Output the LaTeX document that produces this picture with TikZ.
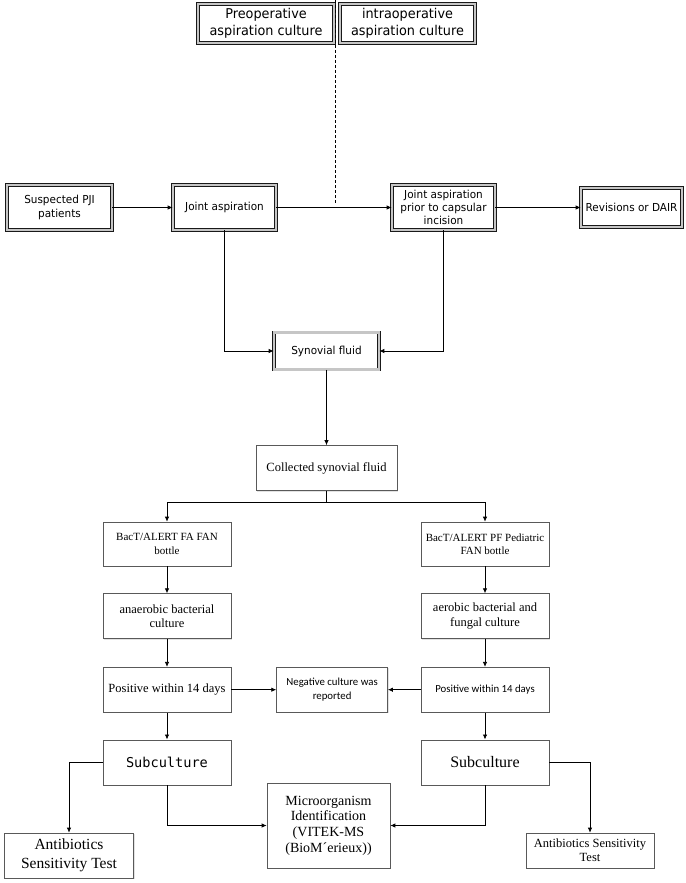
\documentclass[tikz,border=0pt]{standalone}
\usepackage{fontspec}
\setmainfont{Liberation Serif}
\newfontfamily\tahomafont[FakeStretch=0.95]{DejaVu Sans}
\newfontfamily\calibrifont{Carlito}
\newfontfamily\simfont{DejaVu Sans Mono}
\usepackage{tikz}
\usetikzlibrary{shapes, arrows.meta, positioning, shadows}

\newcommand{\fsz}[2]{\fontsize{#1}{#2}\selectfont}

\begin{document}
\begin{tikzpicture}[x=1pt, y=-1pt,
  topbox/.style={rectangle, draw=black!90, line width=0.6pt,
                 double=gray!45, double distance=2.2pt, fill=white,
                 align=center, inner sep=1pt,
                 drop shadow={shadow xshift=1.5pt, shadow yshift=-1.5pt, fill=gray!60},
                 font=\tahomafont\fsz{11}{13.3}},
  box/.style={rectangle, draw=gray!70!black, line width=0.6pt, fill=white,
              align=center, inner sep=1pt,
              minimum width=128pt, minimum height=45pt,
              drop shadow={shadow xshift=1.2pt, shadow yshift=-1.2pt, fill=gray!45},
              font=\fsz{12.5}{14.3}},
  arrow/.style={-{Latex[length=5pt, width=4.5pt]}, line width=0.8pt},
  link/.style={line width=0.8pt}
]
  \useasboundingbox (0,0) rectangle (685,883);

  \node[topbox, minimum width=136pt, minimum height=39pt, font=\tahomafont\fsz{13.5}{17}]
    (pre) at (266,23.5) {Preoperative\\aspiration culture};
  \node[topbox, minimum width=135pt, minimum height=39pt, font=\tahomafont\fsz{13.5}{17}]
    (intra) at (407.5,23.5) {intraoperative\\aspiration culture};
  \coordinate (dashtop) at (335,0);
  \coordinate (dashend) at (335,203);
  \draw[line width=0.7pt, dash pattern=on 3pt off 2pt] (dashtop) -- (dashend);

  \node[topbox, minimum width=105pt, minimum height=45pt] (susp) at (59.5,207.5) {Suspected PJI\\patients};
  \node[topbox, minimum width=103pt, minimum height=45pt] (jasp) at (224.5,207.5) {Joint aspiration};
  \node[topbox, minimum width=103pt, minimum height=45pt] (prior) at (443.5,207.5)
    {Joint aspiration\\prior to capsular\\incision};
  \node[topbox, minimum width=101pt, minimum height=39pt] (rev) at (631.5,207.5) {Revisions or DAIR};
  \node[topbox, minimum width=105pt, minimum height=37pt] (syn) at (326.5,351) {Synovial fluid};

  \node[box, minimum width=141pt] (coll) at (326.5,468) {Collected synovial fluid};
  \coordinate (split) at (326.5,502);

  \node[box, minimum height=44pt, font=\fsz{11}{13.3}] (bacL) at (167,544) {BacT/ALERT FA FAN\\bottle};
  \node[box, minimum height=44pt, font=\fsz{11}{13.3}] (bacR) at (485,544) {BacT/ALERT PF Pediatric\\FAN bottle};
  \node[box, below=27pt of bacL] (anaL) {anaerobic bacterial\\culture};
  \node[box, below=27pt of bacR] (anaR) {aerobic bacterial and\\fungal culture};
  \node[box, below=28pt of anaL] (posL) {Positive within 14 days};
  \node[box, below=28pt of anaR, font=\calibrifont\fsz{10.8}{13}] (posR) {Positive within 14 days};
  \node[box, right=45pt of posL, minimum width=111pt, font=\calibrifont\fsz{10.8}{13.3}] (neg)
    {Negative culture was\\reported};
  \node[box, below=27pt of posL, font=\simfont\fsz{13.6}{16}] (subL) {Subculture};
  \node[box, below=27pt of posR, font=\fsz{16}{18}] (subR) {Subculture};

  \node[box, minimum width=123pt, minimum height=85pt, font=\fsz{14}{15.7}] (micro) at (328.5,825.5)
    {Microorganism\\Identification\\(VITEK-MS\\(BioM´erieux))};
  \node[box, minimum width=129pt, minimum height=45pt, font=\fsz{15.5}{19}] (absL) at (69,855.5)
    {Antibiotics\\Sensitivity Test};
  \node[box, minimum width=128pt, minimum height=35pt, font=\fsz{12.5}{14}] (absR) at (590,850.5)
    {Antibiotics Sensitivity\\Test};

  \draw[arrow] (susp) -- (jasp);
  \draw[arrow] (jasp) -- (prior);
  \draw[arrow] (prior) -- (rev);
  \draw[arrow] (jasp.south) |- (syn.west);
  \draw[arrow] (prior.south) |- (syn.east);
  \draw[arrow] (syn) -- (coll);
  \draw[link] (coll) -- (split);
  \draw[arrow] (split) -| (bacL);
  \draw[arrow] (split) -| (bacR);
  \draw[arrow] (bacL) -- (anaL);
  \draw[arrow] (bacR) -- (anaR);
  \draw[arrow] (anaL) -- (posL);
  \draw[arrow] (anaR) -- (posR);
  \draw[arrow] (posL) -- (neg);
  \draw[arrow] (posR) -- (neg);
  \draw[arrow] (posL) -- (subL);
  \draw[arrow] (posR) -- (subR);
  \draw[arrow] (subL.south) |- (micro.west);
  \draw[arrow] (subR.south) |- (micro.east);
  \draw[arrow] (subL.west) -| (absL.north);
  \draw[arrow] (subR.east) -| (absR.north);
\end{tikzpicture}
\end{document}
